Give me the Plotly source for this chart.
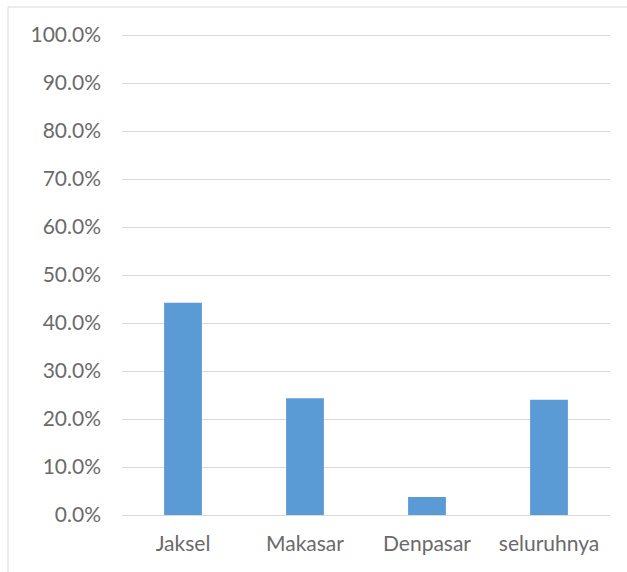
import plotly.graph_objects as go

categories = ["Jaksel", "Makasar", "Denpasar", "seluruhnya"]
shares = [0.442, 0.243, 0.0375, 0.240]
tick_values = [i / 10 for i in range(11)]
tick_labels = [f"{v * 100:.1f}%" for v in tick_values]

Y_MAX = 1.025
W, H = 627, 572
L, R, B = 122, 17, 57
plot_w = W - L - R
plot_h = round(480 * Y_MAX)
T = H - B - plot_h
FONT_SIZE = 21
TEXT_COLOR = "#6a6a6a"


def px_x(p):
    return (p - L) / plot_w


def px_y(p):
    return (H - B - p) / plot_h


fig = go.Figure(
    go.Bar(
        x=categories,
        y=shares,
        marker=dict(color="#5b9bd5", line=dict(width=0)),
        width=0.31,
    )
)

tick_font = dict(family="Lato, Open Sans, sans-serif", size=FONT_SIZE,
                 color=TEXT_COLOR)

fig.update_layout(
    width=W,
    height=H,
    margin=dict(l=L, r=R, t=T, b=B),
    paper_bgcolor="white",
    plot_bgcolor="white",
    showlegend=False,
    font=dict(family="Lato, Open Sans, sans-serif", size=FONT_SIZE, color=TEXT_COLOR),
    xaxis=dict(
        showgrid=False,
        showline=False,
        ticks="",
        ticklabelstandoff=14,
        tickfont=tick_font,
    ),
    yaxis=dict(
        range=[0, Y_MAX],
        tickvals=tick_values,
        ticktext=tick_labels,
        showgrid=True,
        gridcolor="#d9d9d9",
        gridwidth=1,
        zeroline=True,
        zerolinecolor="#d9d9d9",
        zerolinewidth=1,
        showline=False,
        ticks="",
        ticklabelstandoff=20,
        tickfont=tick_font,
    ),
    shapes=[
        dict(
            type="rect",
            xref="paper",
            yref="paper",
            x0=px_x(8),
            x1=px_x(640),
            y0=px_y(590),
            y1=px_y(7),
            line=dict(color="#d9d9d9", width=1),
            fillcolor="rgba(0,0,0,0)",
            layer="below",
        )
    ],
)

fig.write_html("out.html")
